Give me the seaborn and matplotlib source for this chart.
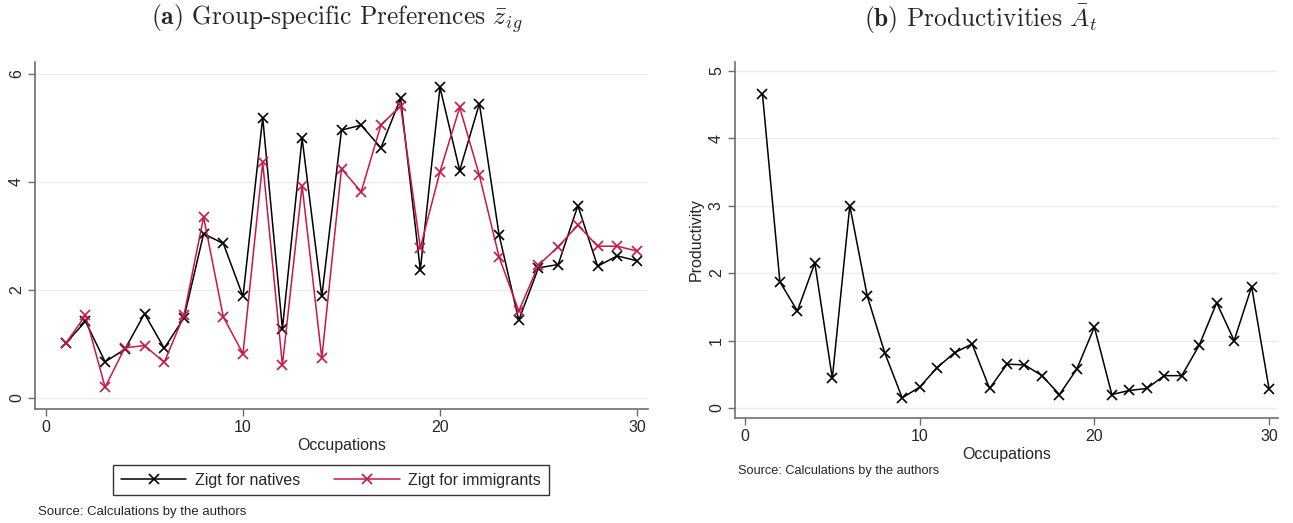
import matplotlib
matplotlib.use("Agg")
import matplotlib.pyplot as plt
import seaborn as sns
import pandas as pd
import numpy as np

occupations = list(range(1, 31))
zigt_natives = [1.01, 1.42, 0.67, 0.90, 1.56, 0.92, 1.48, 3.04, 2.86, 1.88,
                5.19, 1.28, 4.81, 1.88, 4.96, 5.05, 4.63, 5.55, 2.37, 5.75,
                4.21, 5.45, 3.02, 1.44, 2.41, 2.47, 3.56, 2.44, 2.63, 2.54]
zigt_immigrants = [1.01, 1.53, 0.20, 0.93, 0.97, 0.66, 1.53, 3.35, 1.50, 0.82,
                   4.36, 0.61, 3.93, 0.74, 4.24, 3.82, 5.05, 5.41, 2.78, 4.19,
                   5.38, 4.12, 2.61, 1.61, 2.46, 2.80, 3.20, 2.81, 2.81, 2.72]
productivity = [4.66, 1.87, 1.44, 2.15, 0.44, 3.00, 1.66, 0.82, 0.15, 0.31,
                0.60, 0.82, 0.95, 0.29, 0.65, 0.64, 0.48, 0.20, 0.58, 1.20,
                0.20, 0.26, 0.29, 0.48, 0.48, 0.93, 1.56, 1.00, 1.80, 0.28]
series_names = ["Zigt for natives", "Zigt for immigrants"]
xticks = [0, 10, 20, 30]

sns.set_style("white")
plt.rcParams["font.family"] = ["Liberation Sans", "DejaVu Sans"]
plt.rcParams["mathtext.fontset"] = "cm"

W, H = 1293, 523
fig = plt.figure(figsize=(W / 100, H / 100), dpi=100)

def box(x0, y0, x1, y1):
    return [x0 / W, 1 - y1 / H, (x1 - x0) / W, (y1 - y0) / H]

ax1 = fig.add_axes(box(35, 62, 648, 409))
ax2 = fig.add_axes(box(735, 62, 1278, 418))

red = "#c8184a"
spine_col = "#6e6e6e"
mk = dict(marker="x", markersize=6.5, markeredgewidth=1.2, linewidth=1.1)

df = pd.DataFrame({
    "Occupations": occupations * 2,
    "value": zigt_natives + zigt_immigrants,
    "series": [series_names[0]] * 30 + [series_names[1]] * 30,
})
sns.lineplot(data=df, x="Occupations", y="value", hue="series",
             palette={series_names[0]: "black", series_names[1]: red},
             ax=ax1, legend=True, **mk)

dfp = pd.DataFrame({"Occupations": occupations, "Productivity": productivity})
sns.lineplot(data=dfp, x="Occupations", y="Productivity", color="black",
             markeredgecolor="black", ax=ax2, **mk)

for line in ax1.get_lines():
    line.set_markeredgecolor(line.get_color())

for ax in (ax1, ax2):
    ax.set_xticks(xticks)
    ax.grid(axis="y", color="#ececec", linewidth=1.0)
    ax.grid(axis="x", visible=False)
    for s in ("top", "right"):
        ax.spines[s].set_visible(False)
    for s in ("left", "bottom"):
        ax.spines[s].set_color(spine_col)
        ax.spines[s].set_linewidth(1.2)
    ax.tick_params(axis="both", direction="out", length=5, width=1,
                   color=spine_col, labelsize=11.5, pad=3, left=True, bottom=True)
    ax.set_xlabel("Occupations", fontsize=11.5, labelpad=2)

ax1.set_xlim(-0.56, 30.56)
ax1.set_ylim(-0.204, 6.22)
ax1.set_yticks([0, 2, 4, 6])
ax1.set_ylabel("")
ax2.set_xlim(-0.57, 30.51)
ax2.set_ylim(-0.148, 5.13)
ax2.set_yticks([0, 1, 2, 3, 4, 5])
ax2.set_ylabel("Productivity", fontsize=11.5, labelpad=4)

for ax in (ax1, ax2):
    plt.setp(ax.get_yticklabels(), rotation=90, va="center")

handles, labels = ax1.get_legend_handles_labels()
for h in handles:
    h.set_markeredgecolor(h.get_color())
ax1.legend_.remove()
leg = fig.legend(handles, labels, loc="center", ncol=2,
                 bbox_to_anchor=(331 / W, 1 - 480 / H),
                 frameon=True, fancybox=False, edgecolor="black",
                 fontsize=11.5, handlelength=4.1, columnspacing=2.1,
                 handletextpad=0.55, borderpad=0.5)
leg.get_frame().set_linewidth(1.0)

fig.text(38 / W, 1 - 512 / H, "Source: Calculations by the authors",
         fontsize=9.5, va="center", ha="left")
fig.text(738 / W, 1 - 471 / H, "Source: Calculations by the authors",
         fontsize=9.2, va="center", ha="left")

fig.text(337 / W, 1 - 19 / H,
         r"$\mathbf{(a)}$ Group-specific Preferences $\bar{z}_{ig}$",
         fontfamily="cmr10", fontsize=18.3, ha="center", va="center")
fig.text(981 / W, 1 - 19 / H,
         r"$\mathbf{(b)}$ Productivities $\bar{A}_t$",
         fontfamily="cmr10", fontsize=18.3, ha="center", va="center")

fig.savefig("out.png", dpi=100, facecolor="white")
